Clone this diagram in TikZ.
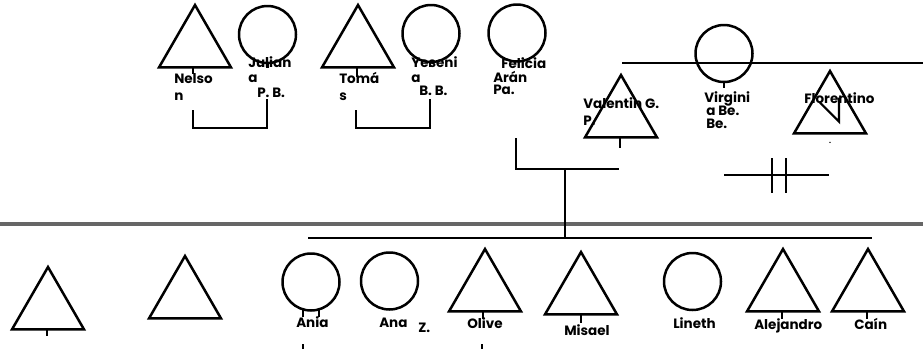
\documentclass[tikz,border=0pt]{standalone}
\usepackage{fontspec}
\setmainfont{Poppins}
\usetikzlibrary{shapes.geometric}
\begin{document}
\begin{tikzpicture}[x=1pt,y=-1pt,
  line width=2.5pt,
  male/.style={draw, regular polygon, regular polygon sides=3, minimum size=83.1pt, inner sep=0pt, outer sep=0pt},
  female/.style={draw, circle, minimum size=57pt, inner sep=0pt, outer sep=0pt},
  lbl/.style={anchor=base west, inner sep=0pt, font=\bfseries\fontsize{13.5}{15}\selectfont},
  tk/.style={line width=2.2pt}
]
\useasboundingbox (0,0) rectangle (923,349);
% ---- top generation
\node[male] (nelson) at (195,46.6) {};
\node[female] (juliana) at (267.5,34.5) {};
\node[male] (tomas) at (358,46.6) {};
\node[female] (yesenia) at (431,33.5) {};
\node[female] (felicia) at (517,33) {};
\node[male] (valentin) at (621,116.6) {};
\node[female] (virginia) at (724,53.5) {};
\node[male] (florentino) at (830,112.6) {};
% ---- bottom generation
\node[male] (b1) at (48,308.6) {};
\node[male] (b2) at (185,297.6) {};
\node[female] (ania) at (311,282) {};
\node[female] (ana) at (389.5,281) {};
\node[male] (olive) at (485,290.6) {};
\node[male] (misael) at (581,293.6) {};
\node[female] (lineth) at (692.5,281.5) {};
\node[male] (alejandro) at (783,290.6) {};
\node[male] (cain) at (868,290.6) {};
% ---- labels
\node[lbl] (l1a) at (173,83) {Nelso};
\node[lbl] (l1b) at (173,100) {n};
\node[lbl] (l2a) at (247,67) {Julian};
\node[lbl] (l2b) at (247,82) {a};
\node[lbl] (l2c) at (256,97) {P. B.};
\node[lbl] (l3a) at (338,83) {Tomá};
\node[lbl] (l3b) at (338,100) {s};
\node[lbl] (l4a) at (410,67) {Yeseni};
\node[lbl] (l4b) at (410,82) {a};
\node[lbl] (l4c) at (418,95) {B. B.};
\node[lbl] (l5a) at (500,68) {Felicia};
\node[lbl] (l5b) at (492,82) {Arán};
\node[lbl] (l5c) at (492,94) {Pa.};
\node[lbl] (l6a) at (582,108) {Valentin G.};
\node[lbl] (l6b) at (582,125) {P.};
\node[lbl] (l7a) at (703,102) {Virgini};
\node[lbl] (l7b) at (705,115) {a Be.};
\node[lbl] (l7c) at (705,128) {Be.};
\node[lbl] (l8) at (803,103) {Florentino};
\node[lbl] (l9) at (295,327) {Ania};
\node[lbl] (l10) at (378,327) {Ana};
\node[lbl] (l10z) at (417,332) {Z.};
\node[lbl] (l11) at (466,328) {Olive};
\node[lbl] (l12) at (563,335) {Misael};
\node[lbl] (l13) at (672,328) {Lineth};
\node[lbl] (l14) at (753,329) {Alejandro};
\node[lbl] (l15) at (853,329) {Caín};
% ---- ticks under symbols
\draw[tk] (nelson.south) ++(-2,0) -- ++(0,7);
\draw[tk] (juliana.south) -- ++(0,5);
\draw[tk] (tomas.south) ++(-1,0) -- ++(0,10);
\draw[tk] (yesenia.south) ++(-1,0) -- ++(0,5);
\draw[tk] (valentin.south) ++(-1,0) -- ++(0,11);
\draw[tk] (virginia.south) -- ++(0,6);
\draw[tk] (b1.south) ++(-1,0) -- ++(0,7);
\draw[tk] (ania.south) ++(-8,-1) -- ++(0,7);
\draw[tk] (ania.south) ++(8,-1) -- ++(0,7);
\draw[tk] (olive.south) ++(-2,0) -- ++(0,8);
\draw[tk] (misael.south) -- ++(0,9);
\draw[tk] (alejandro.south) ++(-1,0) -- ++(0,8);
\draw[tk] (cain.south) ++(-1,0) -- ++(0,8);
\fill (florentino.south) ++(0,9) circle (0.8pt);
% zigzag inside Florentino
\draw[tk] (florentino.center) ++(-10,-10) -- ++(19,19) -- ++(0,-24);
% ---- couple brackets
\coordinate (c1) at (193,110);
\coordinate (c2) at (267,99);
\draw (c1) -- (193,128) -| (c2);
\coordinate (c3) at (356,110);
\coordinate (c4) at (430,99);
\draw (c3) -- (356,128) -| (c4);
% ---- right marriage line
\coordinate (m1) at (622,63);
\coordinate (m2) at (923,63);
\draw (m1) -- (m2);
% ---- divorce line
\coordinate (d1) at (724,175);
\coordinate (d2) at (829,175);
\draw (d1) -- (d2);
\draw (772,158) -- (772,193);
\draw (786,158) -- (786,193);
% ---- parents connector
\coordinate (p1) at (516,138);
\coordinate (p2) at (619,169);
\coordinate (pm) at (565,169);
\draw (p1) |- (p2);
% generation separator
\draw[line width=4.5pt, color=black!60] (0,224) -- (923,224);
\coordinate (sib1) at (308,238);
\coordinate (sib2) at (872,238);
\coordinate (sibm) at (565,238);
\draw (pm) -- (sibm);
\draw (sib1) -- (sib2);
% small marks at bottom edge
\draw[tk] (303,344) -- (303,349);
\draw[tk] (482,344) -- (482,349);
\end{tikzpicture}
\end{document}
